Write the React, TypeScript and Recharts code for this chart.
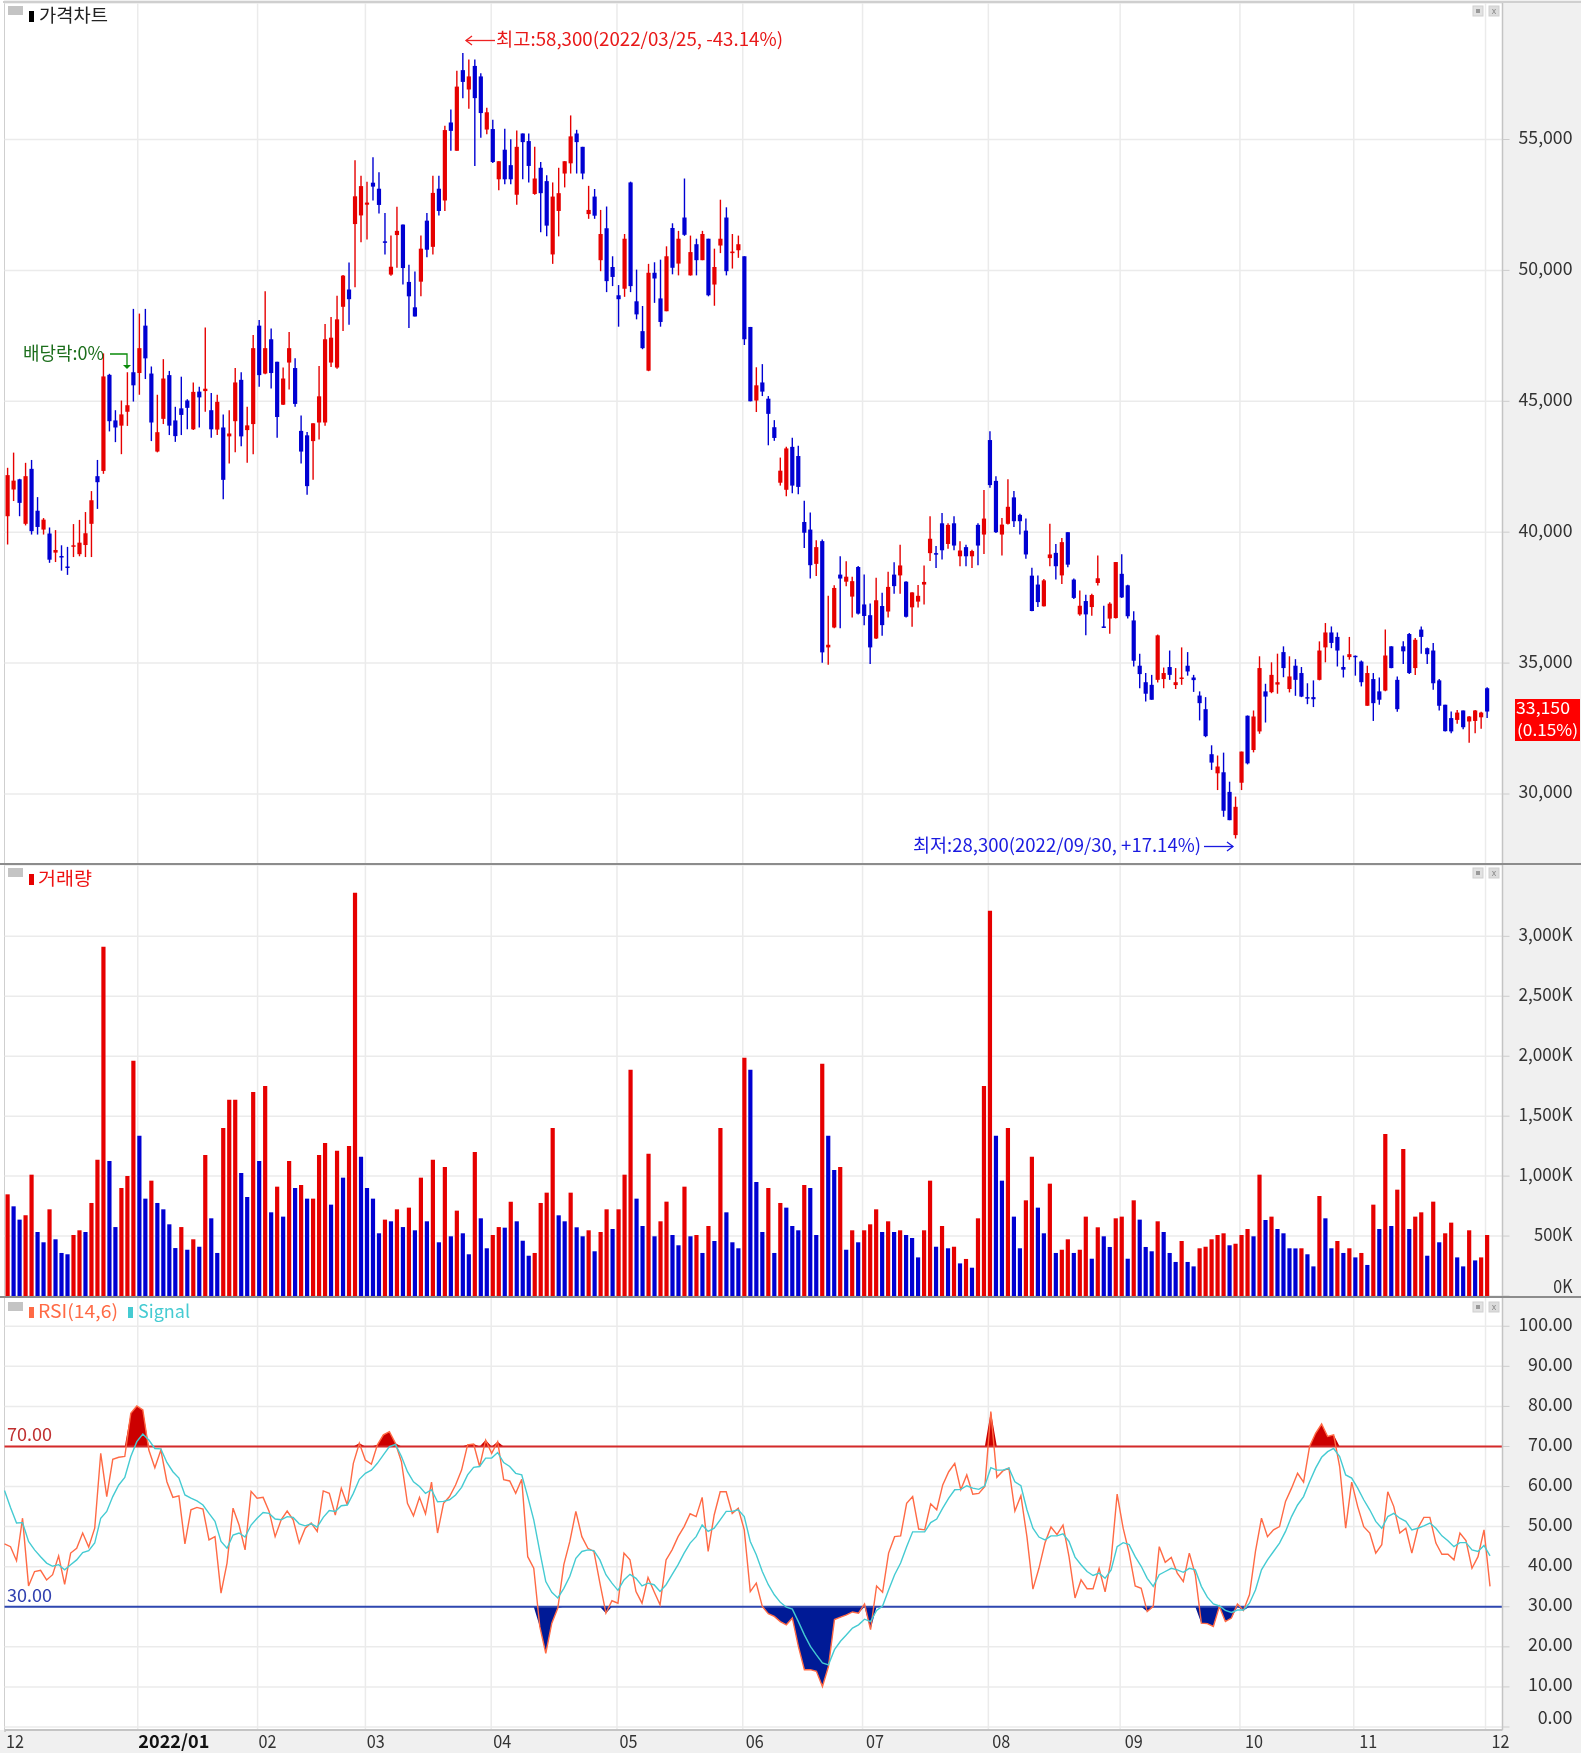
import {
  Area,
  Bar,
  CartesianGrid,
  Cell,
  ComposedChart,
  Line,
  ReferenceLine,
  XAxis,
  YAxis,
} from "recharts";

// price panel, one entry per trading day, Dec 2021 to Dec 2022
const opens = [
  40610,41630,42020,40320,42420,40820,40100,39950,39220,39090,
  38690,39460,39160,39510,40320,42140,42340,46010,44270,44070,
  44600,46110,46080,47890,46060,43080,44330,46000,44270,44730,
  45030,43930,45370,45390,44660,43920,44000,43660,44240,45820,
  43900,44130,47890,46060,47370,46510,44870,46480,46270,43870,
  43700,43480,44190,44190,46480,46290,48610,49270,51770,52100,
  52510,53350,53120,51110,49840,51350,51750,49560,48590,49570,
  51900,50900,53120,52670,55650,54570,57650,56910,57810,57410,
  55380,55400,53480,54610,54020,52890,55230,54940,52920,53920,
  53410,50610,52270,53700,54090,55230,54720,52150,52820,50390,
  51610,50130,49050,49300,53360,48820,47680,46170,49910,48930,
  48440,51620,50260,52020,49810,51000,50390,51210,49460,50950,
  52020,50660,50770,50540,47840,45030,45720,45100,44010,41890,
  41620,43260,42910,40390,40100,38790,39660,35600,36360,38380,
  38110,37540,38670,37240,36830,35940,37180,36970,38380,38350,
  38110,37130,37350,38000,39200,39200,40340,39550,40340,39080,
  39430,39080,40280,39910,43520,41960,39910,40320,41330,40660,
  40060,38340,38000,37170,39010,39210,38350,40000,38190,36860,
  37370,37140,38060,36400,36700,36720,38410,37970,36630,34900,
  34270,34170,34360,34390,34850,34160,34410,34900,34450,33760,
  33240,31520,30790,30830,30080,28430,30430,32990,31680,32390,
  33920,33890,34180,35420,34010,34900,34620,33700,33700,34360,
  35600,36170,36000,34850,35230,35280,35060,33370,34390,33920,
  33950,35640,34360,35640,36110,34810,36280,35570,35480,34340,
  33410,32900,32830,33190,32770,32790,32930,34040,
];
const closes = [
  42180,41970,41120,42140,40040,40200,40480,38950,39320,39050,
  38650,39500,39600,39960,41220,41910,45950,44240,44000,44500,
  44850,45610,47030,46640,44190,43820,45870,44070,43670,44480,
  44750,45360,45150,45480,43930,44980,42000,43770,45720,43660,
  44080,47030,46000,47030,46080,44400,45870,47030,44900,43080,
  41760,44160,45190,47370,47430,48130,49800,48900,52830,53220,
  52590,53200,52500,51060,50140,51510,50090,49010,48240,50830,
  50790,52960,52270,55360,55330,57020,57200,57410,56580,56010,
  56040,54140,54170,53480,53480,54720,54900,53990,53510,52950,
  51710,52820,52950,54170,55120,54900,53700,52310,52090,51390,
  49590,49750,48900,51210,49400,48320,47030,49910,49690,48030,
  50540,50100,51210,51360,50700,50390,51390,49050,50130,51210,
  49970,50720,51000,47370,45000,45610,45370,44520,43600,42350,
  43200,41780,41730,39980,38740,39430,35410,35700,37870,38230,
  38300,38130,36890,36800,35600,37400,36450,37910,37940,38730,
  36770,37700,37570,38100,39750,39150,39310,40280,39490,39300,
  39080,39280,39490,40520,41800,40000,40290,40970,40420,40420,
  39150,36990,37330,38160,39150,38700,39620,38760,37490,37190,
  36860,37600,38240,36360,37270,38860,37510,36790,35090,34580,
  33830,33600,36060,34620,34550,34270,34450,34680,34350,33470,
  32210,31200,31050,29360,29000,29510,31620,31170,32960,34810,
  33720,34550,34270,34810,34490,34360,33720,33650,33620,35480,
  36170,35770,35480,34750,35340,35230,34270,34620,33470,33600,
  35290,34810,33240,35450,34620,35890,36000,35340,34230,33370,
  32400,32390,33110,32550,32960,33190,33110,33150,
];
const highs = [
  42460,43040,42040,42650,42760,41340,40540,40180,40080,39500,
  39440,40310,40470,40770,41570,42760,46830,46050,44660,45030,
  46110,48530,48350,48530,46330,45250,46610,46160,44790,45940,
  45080,45720,45560,47820,45320,45250,44500,44660,46270,46110,
  44790,47530,48110,49200,47780,46510,46290,47650,46640,44460,
  43830,44160,46350,47950,48220,49030,49820,50300,54210,53620,
  53390,54320,53750,52190,51330,52430,51750,50220,49960,51330,
  52190,53620,53620,55530,56150,57630,58300,58060,58060,57530,
  56210,55750,54170,55410,55010,55340,55230,55230,54720,54140,
  53630,53360,53920,54170,55920,55370,54720,53230,53110,52310,
  52440,50540,49440,51390,53390,50030,48640,50250,50310,50410,
  50920,51800,51510,53510,51330,51210,51510,51210,50830,52700,
  52410,51390,51330,50540,47840,46300,46420,45200,44280,42850,
  43260,43610,43300,41200,40750,39690,39720,37570,37970,39080,
  38890,38300,38710,38380,37280,38260,37690,38490,38850,39520,
  38130,37710,37980,38730,40610,39470,40730,40340,40610,39650,
  39520,39330,40340,41610,43860,42140,40540,42020,41570,40700,
  40520,38640,38350,38210,40320,39550,39780,40000,38230,37770,
  37610,37650,39110,37190,37320,38860,39160,37990,36980,35360,
  34620,34550,36090,34830,35480,34810,35600,35420,34550,33920,
  33700,31860,31470,31580,30470,29900,31620,33000,33190,35260,
  34210,35030,35360,35640,35260,35150,34850,34230,34340,35830,
  36530,36400,36170,35290,36000,35290,35100,34900,34620,34450,
  36280,35640,34490,35830,36150,35960,36400,35600,35770,34390,
  33410,33150,33210,33190,32980,33210,33140,34080,
];
const lows = [
  39530,41190,40610,40260,39910,39910,39910,38830,38860,38530,
  38370,39050,39080,39050,39050,40890,42230,43850,43440,42980,
  44060,44990,45250,45850,43480,43050,44130,43710,43450,43710,
  43930,43900,44000,44600,43610,43710,41260,42620,43050,43280,
  42650,42980,45560,46030,45490,43610,44860,45450,44790,42620,
  41430,42000,43540,44070,46310,46240,47690,47920,49360,51080,
  51180,52670,52170,50610,49800,50100,49460,47800,48240,49010,
  50500,50610,52100,52270,54570,54570,56580,56170,53990,55070,
  55200,54100,53060,53290,53290,52510,53480,53360,52890,51460,
  51300,50250,51300,53170,53700,53700,53480,51970,51970,49970,
  49170,49400,47850,48990,49170,48130,46990,46150,48760,47850,
  48440,49850,49810,51320,49800,49810,50390,49010,48650,50660,
  49810,50070,50480,47150,45000,44590,45200,43320,43490,41780,
  41370,41490,41450,39400,38230,38330,35010,34940,36330,36330,
  37940,36740,36860,36450,34970,35920,36040,36740,37650,37650,
  36740,36390,37120,37240,38900,38630,38960,39370,39310,38700,
  38700,38630,38740,39170,41700,39970,39110,40290,40200,39910,
  38990,36980,37140,37160,38700,38190,38020,38660,37450,36810,
  36060,36810,37960,36360,36120,36700,37490,36700,34870,34040,
  33530,33600,34260,34040,34360,34010,34170,34520,33900,32810,
  32170,30920,30150,29130,29000,28300,30150,31130,31590,32300,
  32730,33850,33830,34460,33880,33750,33700,33430,33320,34340,
  35030,35570,34870,34450,35130,34520,34110,33370,32790,33410,
  33920,34800,33140,34970,34580,34550,35360,34970,33980,33190,
  32390,32320,32680,32470,31960,32320,32490,32900,
];

// volume, in thousands of shares
const volumes = [
  848,748,637,673,1012,534,448,723,473,359,
  348,509,548,534,776,1137,2913,1126,575,901,
  1001,1963,1337,812,962,776,723,598,400,575,
  386,473,411,1176,648,359,1401,1637,1637,1026,
  826,1701,1126,1751,698,912,662,1126,901,926,
  812,812,1176,1276,762,1212,987,1251,3364,1162,
  901,812,523,637,623,723,575,737,548,987,
  623,1137,448,1076,498,712,523,348,1201,648,
  398,509,575,570,787,623,461,336,359,776,
  862,1401,673,623,862,573,498,548,373,534,
  723,559,723,1012,1888,812,584,1187,498,623,
  787,509,423,912,498,509,359,584,459,1401,
  698,448,398,1988,1888,951,534,901,359,776,
  737,584,548,926,901,509,1938,1337,1051,1076,
  386,548,448,548,598,723,534,623,534,548,
  509,484,322,548,962,411,584,398,411,272,
  309,236,648,1751,3214,1337,962,1401,662,398,
  798,1162,737,523,937,359,386,473,359,386,
  662,311,573,498,409,648,662,311,798,637,
  409,373,623,534,359,284,459,284,247,398,
  411,473,509,523,423,436,509,559,498,1012,
  634,662,559,523,398,397,398,348,247,834,
  648,398,459,359,398,322,359,259,762,559,
  1351,584,887,1226,559,662,698,336,787,448,
  523,612,322,247,548,297,322,509,
];

const rsiValues = [
  45.7,45.0,41.5,52.1,35.2,38.8,39.1,36.7,38.0,42.7,
  35.6,43.4,44.6,48.4,44.9,49.6,68.3,57.5,66.8,67.3,
  67.5,78.3,80.1,79.1,69.1,64.7,69.1,61.2,57.3,57.7,
  45.7,54.2,54.8,54.4,46.7,47.5,33.4,40.9,54.6,50.4,
  44.2,58.8,57.1,57.3,53.8,47.5,51.7,53.9,51.7,45.9,
  49.6,50.9,48.8,58.9,58.3,52.9,59.6,55.4,65.8,70.8,
  66.6,65.6,70.4,72.9,73.7,70.8,66.2,55.8,52.7,57.3,
  53.2,61.1,48.4,55.8,57.5,60.4,64.1,70.4,70.6,65.0,
  71.6,68.3,71.2,61.7,61.4,58.3,
  61.8,42.5,39.6,25.1,18.4,25.9,29.7,40.5,46.3,53.8,
  47.5,44.6,43.8,35.9,28.4,31.5,30.9,43.4,41.7,33.8,
  30.9,37.3,33.8,30.5,41.7,44.2,47.5,50.0,53.2,52.5,
  57.3,43.8,52.9,58.7,58.7,53.3,54.6,49.2,33.8,35.9,
  30.1,28.3,27.6,26.3,25.5,27.2,20.1,14.3,14.3,13.9,
  10.1,15.1,26.8,27.4,28.0,28.7,28.4,30.7,24.3,35.2,
  33.6,43.4,47.5,47.7,55.8,57.5,49.4,49.2,55.7,54.2,
  60.4,63.7,65.8,59.2,62.9,58.1,58.3,60.0,78.7,62.3,
  63.9,64.6,53.9,57.7,47.5,
  34.4,39.6,45.9,49.9,48.0,50.4,42.5,32.2,36.7,34.5,
  34.5,39.6,33.7,41.7,58.1,49.6,43.4,35.2,34.6,28.8,
  30.1,45.0,41.1,42.3,38.4,36.3,43.4,38.0,25.9,25.8,
  25.1,30.1,26.3,27.2,30.7,29.1,33.0,43.8,52.1,47.5,
  49.2,50.0,56.3,59.6,63.3,61.1,70.0,73.3,75.6,72.5,
  72.9,65.0,49.6,61.1,55.0,50.0,48.4,43.4,45.5,58.7,
  55.0,48.4,49.6,43.4,49.6,52.3,52.3,45.9,43.1,43.1,
  41.7,48.4,46.5,39.6,42.5,49.2,35.1,
];
const signalValues = [
  59.0,54.8,50.9,51.0,46.3,44.2,42.5,40.9,40.1,40.5,
  39.2,40.5,41.7,43.5,44.0,45.9,52.1,53.8,57.5,60.4,
  62.3,67.5,71.2,73.1,71.6,69.5,69.4,66.0,63.7,62.1,
  57.9,57.1,56.4,55.4,53.3,51.3,46.3,44.6,47.9,48.4,
  47.4,50.4,52.1,53.5,53.3,51.9,51.7,52.5,52.3,50.7,
  50.2,50.7,49.9,52.3,54.0,53.8,55.2,55.4,58.3,61.8,
  63.3,64.1,65.8,67.9,70.0,70.5,67.5,63.7,61.2,60.0,
  58.3,59.2,56.2,56.3,56.7,57.9,59.8,62.9,64.8,65.0,
  67.1,67.1,68.5,66.0,65.0,63.3,
  62.9,57.5,51.7,43.8,36.3,33.6,32.2,34.6,37.6,42.1,
  43.8,44.2,44.0,41.7,38.0,35.9,34.1,36.7,38.1,37.1,
  35.2,35.9,35.5,33.8,35.5,38.0,40.5,43.4,45.9,47.5,
  50.4,48.8,49.6,51.7,53.8,53.8,54.2,52.5,46.3,43.0,
  38.8,35.5,33.0,31.1,29.9,29.4,26.3,23.0,20.1,18.0,
  16.0,15.5,19.3,21.4,23.0,24.7,25.5,26.9,26.3,29.1,
  30.2,34.2,38.0,40.9,45.0,48.7,48.7,48.7,51.0,51.9,
  54.6,57.1,59.2,59.3,60.2,59.6,59.3,60.2,64.7,64.1,
  64.1,64.6,61.2,60.2,54.2,
  49.6,47.4,46.7,47.7,47.7,48.2,46.3,42.4,40.5,38.8,
  37.8,38.4,37.1,39.2,45.0,46.0,45.5,42.5,40.1,37.1,
  35.1,38.0,38.8,39.6,39.2,38.6,39.6,39.2,35.1,32.4,
  30.7,30.2,29.1,28.6,29.2,29.2,30.9,34.2,39.2,41.7,
  43.8,45.9,48.8,52.5,55.4,57.5,61.2,64.6,67.3,68.7,
  69.5,67.5,62.9,62.1,59.6,56.7,54.2,51.3,49.6,52.5,
  53.3,52.1,51.3,49.2,49.6,50.2,50.9,49.6,47.7,46.5,
  45.0,46.0,46.0,44.2,43.8,45.3,42.7,
];

// x axis: index of the first trading day of each month and its label
const monthTicks = [0, 22, 42, 60, 81, 102, 123, 143, 164, 186, 206, 225, 247];
const monthLabels = ["12", "2022/01", "02", "03", "04", "05", "06", "07", "08", "09", "10", "11", "12"];

const priceTicks = [30000, 35000, 40000, 45000, 50000, 55000];
const volumeTicks = [0, 500, 1000, 1500, 2000, 2500, 3000];
const rsiTicks = [0, 10, 20, 30, 40, 50, 60, 70, 80, 90, 100];

const W = 1581;
const PLOT_LEFT = 4.5;
const GUTTER = 78.5;
const STEP = 5.99;
const PAD_RIGHT = W - PLOT_LEFT - GUTTER - STEP * opens.length;
const UP = "#e60000";
const DOWN = "#0000d2";
const GRID = "#ebebeb";
const TEXT = "#333333";
const FONT = "'Liberation Sans Narrow', 'Noto Sans CJK KR', sans-serif";

const gridX = monthTicks.slice(1).map((i) => PLOT_LEFT + (i + 0.5) * STEP - 1.5);

const priceRows = opens.map((open, i) => ({
  idx: i,
  open,
  close: closes[i],
  high: highs[i],
  low: lows[i],
}));
const volumeRows = volumes.map((volume, i) => ({ idx: i, volume }));
const rsiRows = rsiValues.map((rsi, i) => ({ idx: i, rsi, signal: signalValues[i] }));

const glyphWidth = (s: string) =>
  s.split("").reduce((w, c) => w + (c === "," || c === "." ? 6 : 9.6), 0);

const Candle = (props: any) => {
  const { x, y, width, height, payload } = props;
  const { open, close, high, low } = payload;
  const perWon = height / (high - low || 1);
  const top = y + (high - Math.max(open, close)) * perWon;
  const bodyH = Math.max(Math.abs(open - close) * perWon, 1.5);
  const color = close >= open ? UP : DOWN;
  const cx = x + width / 2;
  return (
    <g>
      <line x1={cx} x2={cx} y1={y} y2={y + height} stroke={color} strokeWidth={1.4} />
      <rect x={x} y={top} width={width} height={bodyH} fill={color} />
    </g>
  );
};

const ValueTick = (props: any) => {
  const { x, y, payload, format } = props;
  const label = format(payload.value);
  return (
    <text
      x={x + 63}
      y={y + (payload.value === 0 ? -9 : -2)}
      dy="0.36em"
      textAnchor="end"
      fontSize={18}
      fontFamily={FONT}
      fill={TEXT}
      textLength={glyphWidth(label)}
      lengthAdjust="spacingAndGlyphs"
    >
      {label}
    </text>
  );
};

const MonthTick = (props: any) => {
  const { x, y, payload } = props;
  const label = monthLabels[monthTicks.indexOf(payload.value)];
  const isYear = label.length > 2;
  return (
    <text
      x={x + 1.5}
      y={y + 4}
      dy="0.36em"
      fontSize={18}
      fontFamily={FONT}
      fontWeight={isYear ? 700 : 400}
      fill={isYear ? "#111111" : TEXT}
      textLength={isYear ? 71 : 18}
      lengthAdjust="spacingAndGlyphs"
    >
      {label}
    </text>
  );
};

const Caption = ({ x, y, width, color, size = 18, children }: any) => (
  <text
    x={x}
    y={y}
    dy="0.36em"
    fontSize={size}
    fontFamily={FONT}
    fill={color}
    textLength={width}
    lengthAdjust="spacingAndGlyphs"
  >
    {children}
  </text>
);

const PanelButtons = ({ y }: { y: number }) => (
  <g>
    <rect x={8} y={y - 5} width={15} height={9} fill="#c4c4c4" />
    <rect x={1473} y={y - 5} width={10} height={10} fill="#e2e2e2" stroke="#cfcfcf" />
    <rect x={1476} y={y - 2} width={4} height={4} fill="#9a9a9a" />
    <rect x={1489} y={y - 5} width={10} height={10} fill="#dcdcdc" stroke="#cfcfcf" />
    <text x={1494} y={y} dy="0.36em" textAnchor="middle" fontSize={9} fontFamily={FONT} fill="#8a8a8a">
      x
    </text>
  </g>
);

const MonthAxisHidden = () => (
  <XAxis dataKey="idx" hide padding={{ left: 0, right: PAD_RIGHT }} />
);

const Overlay = () => (
  <svg width={W} height={1753} style={{ position: "absolute", left: 0, top: 0, pointerEvents: "none" }}>
    <PanelButtons y={11} />
    <PanelButtons y={873} />
    <PanelButtons y={1307} />

    <rect x={29} y={11} width={5} height={11} fill="#000000" />
    <Caption x={39} y={16} width={69} color="#222222">가격차트</Caption>
    <rect x={29} y={874} width={5} height={11} fill={UP} />
    <Caption x={38} y={879} width={54} color="#ee1111">거래량</Caption>
    <rect x={29} y={1307} width={5} height={11} fill="#ff6a45" />
    <Caption x={38} y={1312} width={80} color="#ff6a45">RSI(14,6)</Caption>
    <rect x={128} y={1307} width={5} height={11} fill="#45cbd2" />
    <Caption x={138} y={1312} width={52} color="#45cbd2">Signal</Caption>

    <line x1={466} x2={495} y1={40.5} y2={40.5} stroke="#ee2222" strokeWidth={1.3} />
    <path d="M472 36 L466 40.5 L472 45" fill="none" stroke="#ee2222" strokeWidth={1.3} />
    <Caption x={496} y={40} width={287} color="#e81818">최고:58,300(2022/03/25, -43.14%)</Caption>

    <Caption x={23} y={354} width={81} color="#1c6e1c">배당락:0%</Caption>
    <path d="M110 354 H127 V366" fill="none" stroke="#0a8a0a" strokeWidth={1.3} />
    <path d="M123 365 H131 L127 369 Z" fill="#0a8a0a" />

    <Caption x={913} y={846} width={288} color="#1a1ae0">최저:28,300(2022/09/30, +17.14%)</Caption>
    <line x1={1204} x2={1233} y1={846.5} y2={846.5} stroke="#1a1ae0" strokeWidth={1.3} />
    <path d="M1227 842 L1233 846.5 L1227 851" fill="none" stroke="#1a1ae0" strokeWidth={1.3} />

    <Caption x={7} y={1435} width={45} color="#c03030">70.00</Caption>
    <Caption x={7} y={1596} width={45} color="#3040b0">30.00</Caption>

    <rect x={1515} y={699} width={65} height={42} fill="#ff0000" />
    <Caption x={1516} y={708.5} width={54} size={16} color="#ffffff">33,150</Caption>
    <Caption x={1517} y={730.5} width={61} size={16} color="#ffffff">(0.15%)</Caption>
  </svg>
);

export default function App() {
  return (
    <div
      style={{
        position: "absolute",
        left: 0,
        top: 0,
        width: W,
        height: 1753,
        background: "#f0f0f0",
        filter: "blur(0.35px)",
      }}
    >
      <div style={{ position: "absolute", left: 0, top: 0, width: 4, height: 1730, background: "#ffffff" }} />
      <div style={{ position: "absolute", left: 3.5, top: 2, width: 2, height: 1730, background: "#cfcfcf" }} />
      <div style={{ position: "absolute", left: 5, top: 2, width: 1498, height: 1728, background: "#ffffff" }} />
      <div style={{ position: "absolute", left: 3, top: 1, width: W - 3, height: 1.5, background: "#cfcfcf" }} />

      <div style={{ position: "absolute", left: 0, top: 3 }}>
        <ComposedChart
          width={W}
          height={861}
          data={priceRows}
          margin={{ top: 0, right: 0, bottom: 0, left: PLOT_LEFT }}
        >
          <CartesianGrid stroke={GRID} strokeWidth={1.5} verticalPoints={gridX} />
          {MonthAxisHidden()}
          <YAxis
            orientation="right"
            width={GUTTER}
            domain={[27326, 60214]}
            ticks={priceTicks}
            axisLine={{ stroke: "#c4c4c4", strokeWidth: 1.5 }}
            tickLine={{ stroke: "#cccccc" }}
            tickSize={7}
            tickMargin={0}
            tick={<ValueTick format={(v: number) => v.toLocaleString("en-US")} />}
            interval={0}
          />
          <Bar
            dataKey={(d: any) => [d.low, d.high]}
            barSize={4.2}
            shape={<Candle />}
            isAnimationActive={false}
          />
        </ComposedChart>
      </div>

      <div style={{ position: "absolute", left: 0, top: 865 }}>
        <ComposedChart
          width={W}
          height={431}
          data={volumeRows}
          margin={{ top: 0, right: 0, bottom: 0, left: PLOT_LEFT }}
        >
          <CartesianGrid stroke={GRID} strokeWidth={1.5} verticalPoints={gridX} />
          {MonthAxisHidden()}
          <YAxis
            orientation="right"
            width={GUTTER}
            domain={[0, 3595]}
            ticks={volumeTicks}
            axisLine={{ stroke: "#c4c4c4", strokeWidth: 1.5 }}
            tickLine={{ stroke: "#cccccc" }}
            tickSize={7}
            tickMargin={0}
            tick={<ValueTick format={(v: number) => `${v.toLocaleString("en-US")}K`} />}
            interval={0}
          />
          <Bar dataKey="volume" barSize={4.2} isAnimationActive={false}>
            {volumes.map((v, i) => (
              <Cell key={i} fill={i === 0 || v >= volumes[i - 1] ? UP : DOWN} />
            ))}
          </Bar>
        </ComposedChart>
      </div>

      <div style={{ position: "absolute", left: 0, top: 1297 }}>
        <ComposedChart
          width={W}
          height={456}
          data={rsiRows}
          margin={{ top: 0, right: 0, bottom: 0, left: PLOT_LEFT }}
        >
          <CartesianGrid stroke={GRID} strokeWidth={1.5} verticalPoints={gridX} />
          <XAxis
            dataKey="idx"
            height={23}
            padding={{ left: 0, right: PAD_RIGHT }}
            ticks={monthTicks}
            interval={0}
            tickLine={false}
            axisLine={{ stroke: "#c4c4c4", strokeWidth: 2 }}
            tick={<MonthTick />}
          />
          <YAxis
            orientation="right"
            width={GUTTER}
            domain={[-0.75, 107.3]}
            ticks={rsiTicks}
            axisLine={{ stroke: "#c4c4c4", strokeWidth: 1.5 }}
            tickLine={{ stroke: "#cccccc" }}
            tickSize={7}
            tickMargin={0}
            tick={<ValueTick format={(v: number) => v.toFixed(2)} />}
            interval={0}
          />
          <Area
            dataKey={(d: any) => [70, Math.max(70, d.rsi)]}
            stroke="none"
            fill="#cc0000"
            fillOpacity={1}
            dot={false}
            activeDot={false}
            isAnimationActive={false}
          />
          <Area
            dataKey={(d: any) => [Math.min(30, d.rsi), 30]}
            stroke="none"
            fill="#001a96"
            fillOpacity={1}
            dot={false}
            activeDot={false}
            isAnimationActive={false}
          />
          <ReferenceLine y={70} stroke="#d42a2a" strokeWidth={1.8} />
          <ReferenceLine y={30} stroke="#2e47b0" strokeWidth={1.8} />
          <Line
            dataKey="rsi"
            stroke="#ff6a45"
            strokeWidth={1.4}
            dot={false}
            activeDot={false}
            isAnimationActive={false}
          />
          <Line
            dataKey="signal"
            stroke="#45cbd2"
            strokeWidth={1.4}
            dot={false}
            activeDot={false}
            isAnimationActive={false}
          />
        </ComposedChart>
      </div>

      <div style={{ position: "absolute", left: 0, top: 863, width: W, height: 2, background: "#8c8c8c" }} />
      <div style={{ position: "absolute", left: 0, top: 1296, width: W, height: 2, background: "#8c8c8c" }} />
      <Overlay />
    </div>
  );
}
